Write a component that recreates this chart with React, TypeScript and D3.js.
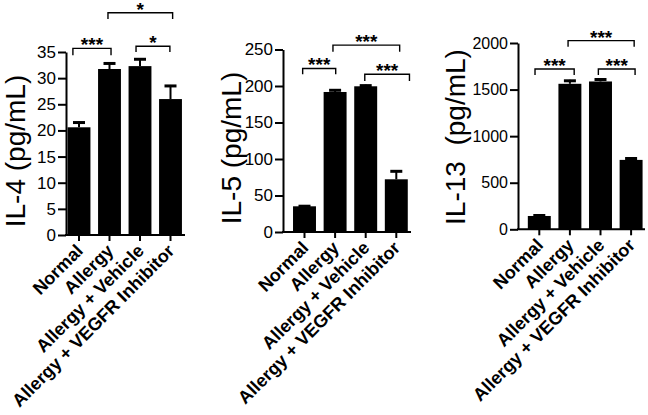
import React, { useEffect, useRef } from "react";
import * as d3 from "d3";

const groups = ["Normal", "Allergy", "Allergy + Vehicle", "Allergy + VEGFR Inhibitor"];

// IL-4
const il4Mean = [20.6, 31.75, 32.3, 26.0];
const il4Sem = [1.1, 1.25, 1.5, 2.7];
const il4Ticks = [0, 5, 10, 15, 20, 25, 30, 35];

// IL-5
const il5Mean = [35.2, 191.8, 199.6, 72.2];
const il5Sem = [1.5, 3.7, 2.3, 12.3];
const il5Ticks = [0, 50, 100, 150, 200, 250];

// IL-13
const il13Mean = [143, 1562, 1587, 745];
const il13Sem = [16, 43, 32, 26];
const il13Ticks = [0, 500, 1000, 1500, 2000];

// significance brackets: from/to in group index units, level/tip in data units
const il4Sig = [
  { from: -0.2, to: 1.05, label: "***", level: 35.7, tip: 34.4 },
  { from: 1.87, to: 2.98, label: "*", level: 36.1, tip: 35.0 },
  { from: 0.95, to: 3.07, label: "*", level: 42.5, tip: 41.3 },
];
const il5Sig = [
  { from: -0.06, to: 1.02, label: "***", level: 224, tip: 216 },
  { from: 1.97, to: 3.43, label: "***", level: 216, tip: 207 },
  { from: 0.93, to: 3.11, label: "***", level: 256, tip: 247 },
];
const il13Sig = [
  { from: -0.14, to: 1.14, label: "***", level: 1721, tip: 1656 },
  { from: 1.93, to: 3.13, label: "***", level: 1721, tip: 1656 },
  { from: 0.94, to: 3.1, label: "***", level: 2025, tip: 1960 },
];

const panels = [
  {
    title: "IL-4 (pg/mL)", mean: il4Mean, sem: il4Sem, ticks: il4Ticks, max: 35, sig: il4Sig,
    range: [63.75, 185.75], axisX: 66, axisEnd: 185, y0: 235, yTop: 52, tickFont: 17,
    labelX: 14.5, labelY: 151,
  },
  {
    title: "IL-5 (pg/mL)", mean: il5Mean, sem: il5Sem, ticks: il5Ticks, max: 250, sig: il5Sig,
    range: [289.2, 411.6], axisX: 283, axisEnd: 411, y0: 232, yTop: 49.5, tickFont: 17,
    labelX: 231, labelY: 148,
  },
  {
    title: "IL-13\u00a0\u00a0(pg/mL)", mean: il13Mean, sem: il13Sem, ticks: il13Ticks, max: 2000, sig: il13Sig,
    range: [524, 646.4], axisX: 518, axisEnd: 645, y0: 229.3, yTop: 43, tickFont: 16,
    labelX: 455, labelY: 137,
  },
];

const font = "'Liberation Sans', Arial, Helvetica, sans-serif";

export default function App() {
  const ref = useRef<SVGSVGElement>(null);

  useEffect(() => {
    const svg = d3.select(ref.current);
    svg.selectAll("*").remove();

    panels.forEach((p) => {
      const g = svg.append("g");
      const x = d3.scaleBand().domain(groups).range(p.range as [number, number])
        .paddingInner(0.25).paddingOuter(0.125);
      const y = d3.scaleLinear().domain([0, p.max]).range([p.y0, p.yTop]);
      const step = x.step();
      const cx = (i: number) => (x(groups[0]) as number) + x.bandwidth() / 2 + i * step;

      // bars
      g.selectAll(".bar")
        .data(p.mean)
        .enter()
        .append("rect")
        .attr("x", (d, i) => x(groups[i]) as number)
        .attr("y", (d) => y(d))
        .attr("width", x.bandwidth())
        .attr("height", (d) => p.y0 - y(d))
        .attr("fill", "#000");

      // error bars (upper only)
      p.mean.forEach((m, i) => {
        const top = y(m + p.sem[i]);
        g.append("line")
          .attr("x1", cx(i)).attr("x2", cx(i))
          .attr("y1", y(m)).attr("y2", top)
          .attr("stroke", "#000").attr("stroke-width", 2);
        g.append("line")
          .attr("x1", cx(i) - 6).attr("x2", cx(i) + 6)
          .attr("y1", top + 1).attr("y2", top + 1)
          .attr("stroke", "#000").attr("stroke-width", 3);
      });

      // y axis
      const ya = g.append("g")
        .attr("transform", `translate(${p.axisX},0)`)
        .call(d3.axisLeft(y).tickValues(p.ticks).tickFormat(d3.format("d"))
          .tickSize(8).tickSizeOuter(0).tickPadding(2));
      ya.select(".domain").attr("stroke-width", 2);
      ya.selectAll(".tick line").attr("stroke-width", 2);
      ya.selectAll(".tick text")
        .attr("font-family", font)
        .attr("font-size", p.tickFont)
        .attr("fill", "#000");

      // x axis
      g.append("line")
        .attr("x1", p.axisX - 1).attr("x2", p.axisEnd)
        .attr("y1", p.y0).attr("y2", p.y0)
        .attr("stroke", "#000").attr("stroke-width", 2);
      groups.forEach((name, i) => {
        g.append("line")
          .attr("x1", cx(i)).attr("x2", cx(i))
          .attr("y1", p.y0).attr("y2", p.y0 + 6)
          .attr("stroke", "#000").attr("stroke-width", 2);
        g.append("text")
          .attr("transform", `translate(${cx(i) + 5},${p.y0 + 17}) rotate(-45)`)
          .attr("text-anchor", "end")
          .attr("font-family", font)
          .attr("font-weight", "bold")
          .attr("font-size", 18)
          .text(name);
      });

      // y label
      g.append("text")
        .attr("transform", `translate(${p.labelX},${p.labelY}) rotate(-90)`)
        .attr("text-anchor", "middle")
        .attr("dy", "0.36em")
        .attr("font-family", font)
        .attr("font-size", 28)
        .text(p.title);

      // significance brackets
      p.sig.forEach((s) => {
        const x1 = cx(s.from);
        const x2 = cx(s.to);
        const yl = y(s.level);
        const yt = y(s.tip);
        g.append("path")
          .attr("d", `M${x1},${yt}V${yl}H${x2}V${yt}`)
          .attr("fill", "none")
          .attr("stroke", "#000")
          .attr("stroke-width", 1.4);
        g.append("text")
          .attr("x", (x1 + x2) / 2)
          .attr("y", yl + 3)
          .attr("text-anchor", "middle")
          .attr("font-family", font)
          .attr("font-weight", "bold")
          .attr("font-size", 19)
          .text(s.label);
      });
    });
  }, []);

  return (
    <svg
      ref={ref}
      width={648}
      height={415}
      style={{ position: "absolute", left: 0, top: 0, background: "#fff" }}
    />
  );
}
